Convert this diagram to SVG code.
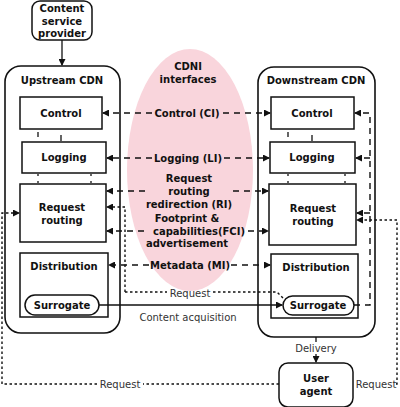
<svg xmlns="http://www.w3.org/2000/svg" width="400" height="407" viewBox="0 0 400 407">
<style>
.box{fill:#fff;stroke:#111;stroke-width:1.5}
.cont{fill:#fff;stroke:#111;stroke-width:1.6}
.b{font-family:"DejaVu Sans",Verdana,sans-serif;font-weight:bold;font-size:10px;fill:#111;text-anchor:middle}
.n{font-family:"DejaVu Sans",Verdana,sans-serif;font-size:10px;fill:#333;text-anchor:middle}
.dash{fill:none;stroke:#111;stroke-width:1.4;stroke-dasharray:6,5}
.dot{fill:none;stroke:#111;stroke-width:1.4;stroke-dasharray:2.5,2.5}
.sol{fill:none;stroke:#111;stroke-width:1.3}
.tick{stroke:#111;stroke-width:1.3}
</style>
<defs>
<marker id="ah" markerWidth="7" markerHeight="7" refX="6" refY="3.5" orient="auto" markerUnits="userSpaceOnUse">
<path d="M0,0 L7,3.5 L0,7 z" fill="#111"/>
</marker>
</defs>
<ellipse id="cdni" cx="190" cy="170" rx="63" ry="121" fill="#f9d5dc"/>
<g id="cdni-label"><text class="b" x="188" y="70">CDNI</text><text class="b" x="188" y="83">interfaces</text></g>

<g id="csp"><rect class="box" x="32" y="1" width="60" height="39" rx="8"/>
<text class="b" x="62" y="12">Content</text><text class="b" x="62" y="25">service</text><text class="b" x="62" y="37">provider</text></g>

<g id="upstream"><rect class="cont" x="5" y="66" width="115" height="267" rx="16"/>
<text class="b" x="62" y="84">Upstream CDN</text></g>
<g id="up-control"><rect class="box" x="20" y="97" width="82" height="32"/><text class="b" x="61" y="117">Control</text></g>
<g id="up-logging"><rect class="box" x="22" y="142" width="84" height="31"/><text class="b" x="64" y="161">Logging</text></g>
<g id="up-rr"><rect class="box" x="20" y="184" width="86" height="58"/><text class="b" x="62" y="211">Request</text><text class="b" x="62" y="224">routing</text></g>
<g id="up-dist"><rect class="box" x="20" y="253" width="88" height="64"/><text class="b" x="64" y="270">Distribution</text></g>
<g id="up-surr"><rect class="box" x="25" y="295" width="74" height="20" rx="10"/><text class="b" x="62" y="309">Surrogate</text></g>

<g id="downstream"><rect class="cont" x="258" y="67" width="117" height="270" rx="16"/>
<text class="b" x="316" y="84">Downstream CDN</text></g>
<g id="dn-control"><rect class="box" x="271" y="97" width="83" height="32"/><text class="b" x="312" y="117">Control</text></g>
<g id="dn-logging"><rect class="box" x="270" y="142" width="85" height="31"/><text class="b" x="312" y="161">Logging</text></g>
<g id="dn-rr"><rect class="box" x="269" y="184" width="87" height="61"/><text class="b" x="313" y="212">Request</text><text class="b" x="313" y="225">routing</text></g>
<g id="dn-dist"><rect class="box" x="271" y="254" width="87" height="64"/><text class="b" x="316" y="271">Distribution</text></g>
<g id="dn-surr"><rect class="box" x="283" y="296" width="71" height="19" rx="9.5"/><text class="b" x="318" y="309">Surrogate</text></g>

<g id="user-agent"><rect class="box" x="279" y="363" width="74" height="44" rx="9"/><text class="b" x="316" y="382">User</text><text class="b" x="316" y="395">agent</text></g>

<g id="connectors">
<line class="sol" x1="62" y1="40" x2="62" y2="65" marker-end="url(#ah)"/>
<line class="tick" x1="38" y1="132" x2="38" y2="137"/><line class="tick" x1="61" y1="135" x2="61" y2="141"/>
<line class="tick" x1="38" y1="174" x2="38" y2="176"/><line class="tick" x1="91" y1="174" x2="91" y2="176"/>
<line class="tick" x1="38" y1="181" x2="38" y2="183"/><line class="tick" x1="91" y1="181" x2="91" y2="183"/>
<line class="tick" x1="288" y1="132" x2="288" y2="137"/><line class="tick" x1="312" y1="135" x2="312" y2="141"/>
<line class="tick" x1="288" y1="174" x2="288" y2="176"/><line class="tick" x1="345" y1="174" x2="345" y2="176"/>
<line class="tick" x1="288" y1="181" x2="288" y2="183"/><line class="tick" x1="345" y1="181" x2="345" y2="183"/>
<!-- Control (CI) -->
<text class="b" x="187" y="117">Control (CI)</text>
<line class="dash" x1="152" y1="113" x2="103" y2="113" marker-end="url(#ah)"/>
<line class="dash" x1="223" y1="113" x2="270" y2="113" marker-end="url(#ah)"/>
<!-- Logging (LI) -->
<text class="b" x="188" y="162">Logging (LI)</text>
<line class="dash" x1="152" y1="158" x2="107" y2="158" marker-end="url(#ah)"/>
<line class="dash" x1="224" y1="158" x2="269" y2="158" marker-end="url(#ah)"/>
<!-- RI -->
<text class="b" x="189" y="182">Request</text><text class="b" x="189" y="195">routing</text><text class="b" x="189" y="208">redirection (RI)</text>
<line class="dash" x1="145" y1="191" x2="107" y2="191" marker-end="url(#ah)"/>
<line class="dash" x1="233" y1="191" x2="268" y2="191" marker-end="url(#ah)" stroke-dasharray="2,5,6,5"/>
<!-- FCI -->
<text class="b" x="187" y="222">Footprint &amp;</text><text class="b" x="199" y="235">capabilities(FCI)</text><text class="b" x="187" y="247">advertisement</text>
<line class="dash" x1="144" y1="231" x2="107" y2="231" marker-end="url(#ah)"/>
<line class="dash" x1="248" y1="231" x2="268" y2="231" marker-end="url(#ah)"/>
<!-- MI -->
<text class="b" x="190" y="269">Metadata (MI)</text>
<line class="dash" x1="149" y1="265" x2="109" y2="265" marker-end="url(#ah)"/>
<line class="dash" x1="231" y1="265" x2="270" y2="265" marker-end="url(#ah)"/>
<!-- Request from upstream RR to downstream surrogate -->
<path class="dot" d="M125,292 L125,207 L107,207" marker-end="url(#ah)"/>
<line class="dot" x1="125" y1="292" x2="167" y2="292"/>
<text class="n" x="190" y="297">Request</text>
<path class="dot" d="M213,292 L277,292 L283,298"/>
<!-- Content acquisition -->
<line class="sol" x1="99" y1="305" x2="282" y2="305" marker-end="url(#ah)"/>
<text class="n" x="188" y="321">Content acquisition</text>
<!-- Downstream internal dashed -->
<path class="dash" d="M354,305 L370,305 L370,113 L355,113" marker-end="url(#ah)"/>
<line class="dash" x1="370" y1="158" x2="356" y2="158" marker-end="url(#ah)"/>
<line class="dash" x1="370" y1="213" x2="357" y2="213" marker-end="url(#ah)"/>
<!-- Delivery -->
<line class="sol" x1="316" y1="337" x2="316" y2="342"/>
<text class="n" x="316" y="352">Delivery</text>
<line class="sol" x1="316" y1="354" x2="316" y2="362" marker-end="url(#ah)"/>
<!-- Request user agent -> upstream RR -->
<path class="dot" d="M279,384 L143,384"/>
<text class="n" x="120" y="388">Request</text>
<path class="dot" d="M97,384 L2,384 L2,213 L19,213" marker-end="url(#ah)"/>
<!-- Request user agent -> downstream RR -->
<text class="n" x="376" y="388">Request</text>
<path class="dot" d="M396,384 L397,384 L397,220 L357,220" marker-end="url(#ah)"/>
</g>
</svg>
